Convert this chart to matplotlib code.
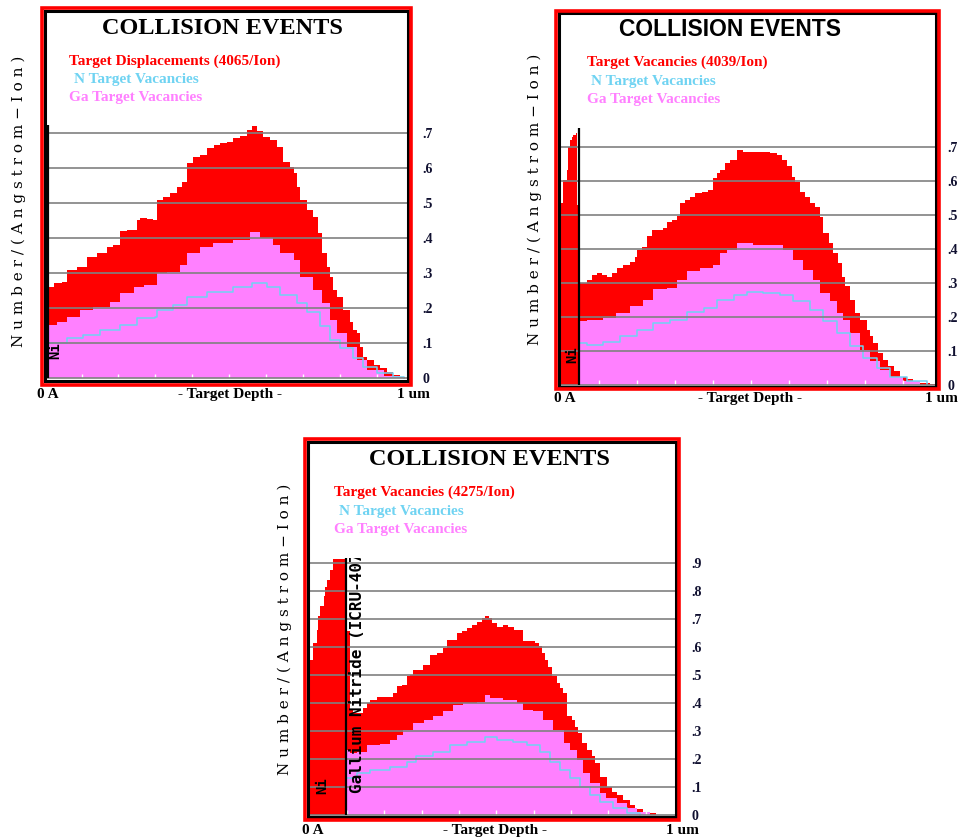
import matplotlib
matplotlib.use("Agg")
import matplotlib.pyplot as plt
from matplotlib.patches import Rectangle
from matplotlib.transforms import Bbox, TransformedBbox

FIG_W, FIG_H = 960, 838

RED = "#FF0000"
PINK = "#FF80FF"
CYAN = "#6FD3F2"
GRID = "#808080"

# ---- top-left: 10 nm Ni on GaN, displacements ----
p1_red_depth = [0.0, 0.01, 0.024, 0.046, 0.060, 0.087, 0.114, 0.141, 0.168, 0.186,
                0.204, 0.222, 0.250, 0.259, 0.277, 0.295, 0.304, 0.322, 0.340, 0.358,
                0.372, 0.385, 0.403, 0.421, 0.439, 0.458, 0.476, 0.494, 0.512, 0.530,
                0.548, 0.561, 0.575, 0.593, 0.611, 0.629, 0.647, 0.665, 0.675, 0.684,
                0.693, 0.711, 0.729, 0.742, 0.751, 0.765, 0.774, 0.783, 0.792, 0.810,
                0.828, 0.837, 0.846, 0.855, 0.864, 0.873, 0.892, 0.910, 0.928, 0.946,
                0.964, 0.977]
p1_red = [0.38, 0.262, 0.272, 0.276, 0.31, 0.319, 0.348, 0.357, 0.376, 0.38,
          0.42, 0.424, 0.452, 0.457, 0.455, 0.452, 0.51, 0.519, 0.529, 0.548,
          0.562, 0.614, 0.633, 0.638, 0.657, 0.667, 0.671, 0.676, 0.686, 0.693,
          0.71, 0.72, 0.707, 0.69, 0.681, 0.662, 0.619, 0.605, 0.586, 0.548,
          0.51, 0.481, 0.462, 0.414, 0.357, 0.319, 0.29, 0.252, 0.233, 0.195,
          0.162, 0.138, 0.129, 0.09, 0.062, 0.052, 0.038, 0.029, 0.019, 0.01,
          0.005, 0.0]
p1_ga_depth = [0.0, 0.01, 0.033, 0.060, 0.096, 0.132, 0.177, 0.204, 0.241, 0.268,
               0.304, 0.331, 0.367, 0.385, 0.421, 0.457, 0.512, 0.557, 0.584, 0.620,
               0.638, 0.675, 0.693, 0.729, 0.751, 0.774, 0.792, 0.819, 0.846, 0.873,
               0.919, 0.964]
p1_ga = [0.081, 0.152, 0.162, 0.176, 0.195, 0.205, 0.219, 0.243, 0.262, 0.267,
         0.30, 0.305, 0.324, 0.357, 0.376, 0.386, 0.395, 0.419, 0.40, 0.381,
         0.357, 0.338, 0.29, 0.252, 0.214, 0.167, 0.129, 0.09, 0.052, 0.024,
         0.007, 0.0]
p1_n_depth = [0.01, 0.060, 0.105, 0.150, 0.204, 0.250, 0.299, 0.304, 0.349, 0.385,
              0.439, 0.512, 0.561, 0.602, 0.638, 0.684, 0.711, 0.747, 0.774, 0.801,
              0.837, 0.864, 0.901, 0.946, 0.975]
p1_n = [0.10, 0.114, 0.124, 0.138, 0.152, 0.171, 0.176, 0.195, 0.21, 0.233,
        0.248, 0.262, 0.273, 0.262, 0.238, 0.214, 0.19, 0.148, 0.11, 0.086,
        0.057, 0.033, 0.014, 0.003, 0.0]
p1_ticks = [0.0, 0.1, 0.2, 0.3, 0.4, 0.5, 0.6, 0.7]
p1_tick_labels = ["0", ".1", ".2", ".3", ".4", ".5", ".6", ".7"]
p1_legend = ["Target Displacements (4065/Ion)", "N Target Vacancies", "Ga Target Vacancies"]
p1_ni = 0.01

# ---- top-right: 50 nm Ni on GaN, vacancies ----
p2_red_depth = [0.0, 0.004, 0.015, 0.019, 0.024, 0.028, 0.032, 0.039, 0.043,
                0.048, 0.068, 0.081, 0.094, 0.107, 0.120, 0.133, 0.147, 0.164, 0.182,
                0.195, 0.199, 0.212, 0.225, 0.239, 0.269, 0.278, 0.291, 0.304, 0.313,
                0.326, 0.339, 0.353, 0.370, 0.388, 0.401, 0.410, 0.418, 0.432, 0.445,
                0.462, 0.480, 0.497, 0.515, 0.550, 0.568, 0.581, 0.594, 0.607, 0.616,
                0.629, 0.642, 0.655, 0.668, 0.682, 0.690, 0.704, 0.717, 0.730, 0.739,
                0.747, 0.761, 0.774, 0.787, 0.805, 0.813, 0.822, 0.835, 0.848, 0.861,
                0.875, 0.892, 0.910, 0.927, 0.945, 0.971, 0.984]
p2_red = [0.534, 0.603, 0.632, 0.70, 0.720, 0.729, 0.735, 0.739, 0.529,
          0.299, 0.308, 0.323, 0.328, 0.323, 0.318, 0.328, 0.343, 0.353, 0.362,
          0.377, 0.397, 0.406, 0.436, 0.455, 0.460, 0.480, 0.485, 0.495, 0.534,
          0.544, 0.553, 0.563, 0.568, 0.573, 0.607, 0.622, 0.632, 0.651, 0.661,
          0.690, 0.685, 0.683, 0.685, 0.680, 0.676, 0.661, 0.642, 0.612, 0.597,
          0.568, 0.553, 0.534, 0.524, 0.494, 0.446, 0.416, 0.387, 0.357, 0.318,
          0.289, 0.250, 0.210, 0.191, 0.162, 0.142, 0.122, 0.093, 0.073, 0.054,
          0.039, 0.024, 0.017, 0.010, 0.005, 0.002, 0.0]
p2_ga_depth = [0.0, 0.048, 0.068, 0.111, 0.146, 0.182, 0.217, 0.243, 0.278, 0.304,
               0.331, 0.366, 0.401, 0.418, 0.436, 0.462, 0.506, 0.559, 0.585, 0.611,
               0.638, 0.664, 0.682, 0.708, 0.725, 0.743, 0.761, 0.787, 0.813, 0.839,
               0.866, 0.901, 0.945]
p2_ga = [0.0, 0.186, 0.19, 0.196, 0.21, 0.23, 0.25, 0.28, 0.284, 0.309,
         0.333, 0.343, 0.353, 0.387, 0.397, 0.416, 0.411, 0.411, 0.397, 0.367,
         0.338, 0.309, 0.27, 0.245, 0.21, 0.19, 0.152, 0.103, 0.069, 0.044,
         0.024, 0.012, 0.0]
p2_n_depth = [0.048, 0.068, 0.111, 0.155, 0.199, 0.243, 0.287, 0.331, 0.375, 0.410,
              0.454, 0.489, 0.532, 0.576, 0.611, 0.655, 0.690, 0.725, 0.761, 0.796,
              0.831, 0.866, 0.910, 0.963]
p2_n = [0.122, 0.118, 0.127, 0.142, 0.162, 0.181, 0.19, 0.215, 0.225, 0.25,
        0.264, 0.274, 0.271, 0.264, 0.245, 0.22, 0.186, 0.152, 0.113, 0.078,
        0.049, 0.024, 0.01, 0.0]
p2_ticks = p1_ticks
p2_tick_labels = p1_tick_labels
p2_legend = ["Target Vacancies (4039/Ion)", "N Target Vacancies", "Ga Target Vacancies"]
p2_ni = 0.048

# ---- bottom: 100 nm Ni on GaN, vacancies ----
p3_red_depth = [0.0, 0.010, 0.019, 0.023, 0.028, 0.037, 0.041, 0.046, 0.054, 0.063,
                0.097, 0.108, 0.117, 0.144, 0.153, 0.162, 0.179, 0.224, 0.233, 0.246,
                0.260, 0.269, 0.278, 0.304, 0.322, 0.340, 0.358, 0.367, 0.394, 0.407,
                0.421, 0.434, 0.447, 0.461, 0.470, 0.479, 0.488, 0.501, 0.519, 0.532,
                0.546, 0.572, 0.604, 0.613, 0.621, 0.630, 0.639, 0.648, 0.662, 0.671,
                0.679, 0.688, 0.702, 0.711, 0.720, 0.729, 0.742, 0.755, 0.764, 0.778,
                0.796, 0.809, 0.822, 0.840, 0.858, 0.871, 0.894, 0.912, 0.929]
p3_red = [0.554, 0.614, 0.661, 0.709, 0.745, 0.781, 0.816, 0.840, 0.876, 0.915,
          0.656, 0.375, 0.364, 0.381, 0.40, 0.411, 0.423, 0.435, 0.459, 0.465,
          0.495, 0.50, 0.518, 0.536, 0.572, 0.578, 0.596, 0.626, 0.65, 0.656,
          0.667, 0.679, 0.691, 0.703, 0.709, 0.703, 0.685, 0.673, 0.679, 0.673,
          0.661, 0.620, 0.614, 0.602, 0.578, 0.554, 0.530, 0.495, 0.471, 0.453,
          0.435, 0.352, 0.340, 0.316, 0.292, 0.256, 0.232, 0.209, 0.185, 0.137,
          0.101, 0.083, 0.072, 0.054, 0.036, 0.020, 0.012, 0.006, 0.0]
p3_ga_depth = [0.0, 0.097, 0.108, 0.126, 0.153, 0.188, 0.215, 0.233, 0.251, 0.278,
               0.305, 0.331, 0.358, 0.385, 0.412, 0.448, 0.470, 0.483, 0.519, 0.554,
               0.572, 0.598, 0.626, 0.653, 0.680, 0.697, 0.715, 0.733, 0.751, 0.777,
               0.795, 0.822, 0.849, 0.876, 0.911]
p3_ga = [0.0, 0.232, 0.22, 0.225, 0.25, 0.255, 0.268, 0.286, 0.304, 0.328,
         0.34, 0.352, 0.37, 0.393, 0.40, 0.405, 0.427, 0.417, 0.411, 0.40,
         0.375, 0.37, 0.34, 0.304, 0.256, 0.232, 0.197, 0.149, 0.113, 0.077,
         0.06, 0.042, 0.024, 0.012, 0.0]
p3_n_depth = [0.097, 0.126, 0.162, 0.215, 0.260, 0.286, 0.331, 0.376, 0.421, 0.470,
              0.501, 0.545, 0.581, 0.617, 0.644, 0.670, 0.697, 0.724, 0.751, 0.777,
              0.813, 0.849, 0.885]
p3_n = [0.131, 0.149, 0.161, 0.173, 0.19, 0.209, 0.226, 0.25, 0.262, 0.278,
        0.268, 0.262, 0.25, 0.226, 0.19, 0.161, 0.131, 0.101, 0.072, 0.048,
        0.024, 0.008, 0.0]
p3_ticks = [0.0, 0.1, 0.2, 0.3, 0.4, 0.5, 0.6, 0.7, 0.8, 0.9]
p3_tick_labels = ["0", ".1", ".2", ".3", ".4", ".5", ".6", ".7", ".8", ".9"]
p3_legend = ["Target Vacancies (4275/Ion)", "N Target Vacancies", "Ga Target Vacancies"]
p3_ni = 0.097

depth_ticks = [0.1, 0.2, 0.3, 0.4, 0.5, 0.6, 0.7, 0.8, 0.9]
title_text = "COLLISION EVENTS"
ylabel_text = " ".join("Number/(Angstrom\u2212Ion)")

SERIF = "Liberation Serif"
MONO = "DejaVu Sans Mono"


def fx(x):
    return x / FIG_W


def fy(y):
    return 1 - y / FIG_H


def draw_panel(fig, p):
    """
    Draw one SRIM style collision events panel, positions given in pixels.
    """
    left, right, top, bottom = p["frame"]
    x0, sx, y0, sy = p["scale"]
    ax = fig.add_axes([fx(left), fy(bottom), (right - left) / FIG_W,
                       (bottom - top) / FIG_H])
    ax.set_xlim((left - x0) / sx, (right - x0) / sx)
    ax.set_ylim((y0 - bottom) / sy, (y0 - top) / sy)

    ax.fill_between(p["red_depth"], 0, p["red"], step="post",
                    color=RED, lw=0, zorder=1)
    ax.fill_between(p["ga_depth"], 0, p["ga"], step="post",
                    color=PINK, lw=0, zorder=1.2)
    ax.step(p["n_depth"], p["n"], where="post", color=CYAN, lw=1.1,
            zorder=1.4)

    ax.set_yticks(p["ticks"], p["tick_labels"])
    ax.yaxis.tick_right()
    ax.tick_params(axis="y", length=0, pad=p["pad"], labelsize=10,
                   labelcolor="#101030")
    for lab in ax.get_yticklabels():
        lab.set_fontfamily(SERIF)
        lab.set_fontweight("bold")
    ax.grid(axis="y", color=GRID, lw=1.2)
    ax.set_axisbelow(False)
    ax.set_xticks(depth_ticks)
    ax.tick_params(axis="x", direction="in", length=5, width=1,
                   color="white", labelbottom=False)
    for spine in ax.spines.values():
        spine.set_linewidth(2.2)
        spine.set_color("black")
        spine.set_zorder(5)

    ax.vlines(p["ni"], 0, p["ni_top"], color="black", lw=1.6, zorder=4)

    # red outer border
    bl, br, bt, bb = p["border"]
    fig.add_artist(Rectangle((fx(bl), fy(bb)), (br - bl) / FIG_W,
                             (bb - bt) / FIG_H, transform=fig.transFigure,
                             fill=False, edgecolor=RED, lw=2.6))

    tx, ty = p["title_xy"]
    if p["title_sans"]:
        fig.text(fx(tx), fy(ty), title_text, ha="center", va="center",
                 fontsize=16.5, fontweight="bold", family="Liberation Sans")
    else:
        fig.text(fx(tx), fy(ty), title_text, ha="center", va="center",
                 fontsize=17.5, fontweight="bold", family=SERIF)

    for (lx, ly), label, color in zip(p["legend_xy"], p["legend"],
                                      [RED, CYAN, PINK]):
        fig.text(fx(lx), fy(ly), label, ha="left", va="center",
                 fontsize=11, fontweight="bold", family=SERIF, color=color)

    xl = p["xlabel_y"]
    for x, label in zip(p["xlabel_x"], ["0 A", "- Target Depth -", "1 um"]):
        fig.text(fx(x), fy(xl), label, ha="center", va="center",
                 fontsize=11, fontweight="bold", family=SERIF)

    yx, yy = p["ylabel_xy"]
    fig.text(fx(yx), fy(yy), ylabel_text, rotation=90, ha="center",
             va="center", fontsize=11, family="DejaVu Serif")

    nx, ny = p["ni_xy"]
    fig.text(fx(nx), fy(ny), "Ni", rotation=90, ha="center", va="center",
             fontsize=10, fontweight="bold", family=MONO)

    if p.get("gan_xy"):
        gx, gy = p["gan_xy"]
        txt = ax.text((gx - x0) / sx, (y0 - gy) / sy,
                      "Gallium Nitride (ICRU-407)", rotation=90,
                      ha="center", va="bottom", fontsize=11.5,
                      fontweight="bold", family=MONO, zorder=6)
        txt.set_clip_box(TransformedBbox(Bbox([[0, 0], [1, p["ni_top"]]]),
                                         ax.transData))
        txt.set_clip_on(True)
    return ax


def main():
    fig = plt.figure(figsize=(FIG_W / 100, FIG_H / 100), dpi=100)

    panels = [
        dict(frame=(45, 407.5, 11, 381.3), scale=(44.7, 368.7, 378.3, 350),
             border=(41.7, 411.3, 7.7, 385.3), pad=11,
             red_depth=p1_red_depth, red=p1_red, ga_depth=p1_ga_depth,
             ga=p1_ga, n_depth=p1_n_depth, n=p1_n, ticks=p1_ticks,
             tick_labels=p1_tick_labels, legend=p1_legend, ni=p1_ni,
             ni_top=0.724, title_xy=(222.5, 28), title_sans=False,
             legend_xy=[(69, 61), (74, 79), (69, 97)],
             xlabel_y=394, xlabel_x=[48, 230, 413],
             ylabel_xy=(19, 201), ni_xy=(55, 351)),
        dict(frame=(559, 936.3, 13.3, 386.7), scale=(561, 380, 384.7, 340),
             border=(556.3, 938.7, 10.7, 389.3), pad=8,
             red_depth=p2_red_depth, red=p2_red, ga_depth=p2_ga_depth,
             ga=p2_ga, n_depth=p2_n_depth, n=p2_n, ticks=p2_ticks,
             tick_labels=p2_tick_labels, legend=p2_legend, ni=p2_ni,
             ni_top=0.756, title_xy=(730, 29), title_sans=True,
             legend_xy=[(587, 62), (591, 81), (587, 99)],
             xlabel_y=398, xlabel_x=[564.5, 750, 941],
             ylabel_xy=(535, 199), ni_xy=(572, 355)),
        dict(frame=(308, 676.3, 442, 817.3), scale=(309.7, 373.3, 815, 280),
             border=(305, 679.3, 438.7, 820.3), pad=11,
             red_depth=p3_red_depth, red=p3_red, ga_depth=p3_ga_depth,
             ga=p3_ga, n_depth=p3_n_depth, n=p3_n, ticks=p3_ticks,
             tick_labels=p3_tick_labels, legend=p3_legend, ni=p3_ni,
             ni_top=0.918, title_xy=(489.5, 459), title_sans=False,
             legend_xy=[(334, 492), (339, 511), (334, 529)],
             xlabel_y=830, xlabel_x=[313, 495, 682],
             ylabel_xy=(285, 629), ni_xy=(322, 786), gan_xy=(357.5, 793)),
    ]
    for panel in panels:
        draw_panel(fig, panel)

    fig.savefig("out.png", dpi=100)
    plt.close(fig)


if __name__ == "__main__":
    main()
